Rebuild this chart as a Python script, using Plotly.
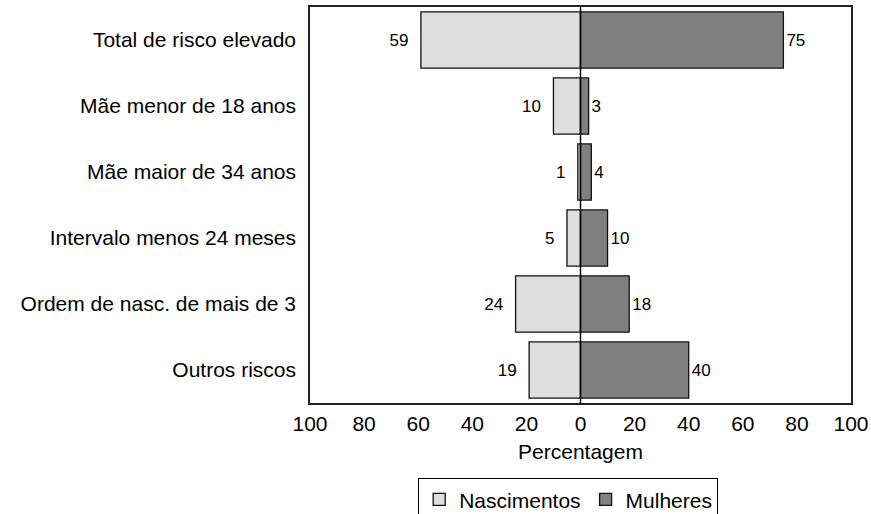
import plotly.graph_objects as go

categories = ["Total de risco elevado", "Mãe menor de 18 anos", "Mãe maior de 34 anos",
              "Intervalo menos 24 meses", "Ordem de nasc. de mais de 3", "Outros riscos"]
nascimentos = [59, 10, 1, 5, 24, 19]
mulheres = [75, 3, 4, 10, 18, 40]
tick_vals = [-100, -80, -60, -40, -20, 0, 20, 40, 60, 80, 100]
tick_text = ["100", "80", "60", "40", "20", "0", "20", "40", "60", "80", "100"]

FONT = "Liberation Sans, Arial, sans-serif"

fig = go.Figure()
fig.add_trace(go.Bar(
    y=categories, x=[-v for v in nascimentos], orientation="h", name="Nascimentos",
    marker=dict(color="#dedede", line=dict(color="#111111", width=1.3)),
    text=[str(v) + "\u00a0\u00a0" for v in nascimentos], textposition="outside",
    textfont=dict(size=17, color="black", family=FONT), cliponaxis=False,
    width=0.85,
))
fig.add_trace(go.Bar(
    y=categories, x=mulheres, orientation="h", name="Mulheres",
    marker=dict(color="#808080", line=dict(color="#111111", width=1.3)),
    text=[str(v) for v in mulheres], textposition="outside",
    textfont=dict(size=17, color="black", family=FONT), cliponaxis=False,
    width=0.85,
))
fig.add_shape(type="line", xref="x", yref="paper", x0=0, x1=0, y0=0, y1=1,
              line=dict(color="black", width=1.5))

fig.update_layout(
    width=871, height=514,
    margin=dict(l=310, r=20, t=7, b=111, autoexpand=False),
    barmode="overlay",
    plot_bgcolor="white", paper_bgcolor="white",
    font=dict(family=FONT, size=21, color="black"),
    xaxis=dict(range=[-100, 100], tickvals=tick_vals, ticktext=tick_text,
               showgrid=False, zeroline=False, showline=True, mirror=True,
               linecolor="#222222", linewidth=1.5, ticks="", automargin=False,
               ticklabelstandoff=1,
               title=dict(text="Percentagem", standoff=10, font=dict(size=21)),
               tickfont=dict(size=21)),
    yaxis=dict(categoryorder="array", categoryarray=categories, autorange="reversed",
               showgrid=False, zeroline=False, showline=True, mirror=True,
               linecolor="#222222", linewidth=1.5, ticks="", ticklabelstandoff=8,
               automargin=False, tickfont=dict(size=21)),
    legend=dict(orientation="h", x=0.2, xanchor="left", y=-0.19, yanchor="top",
                bordercolor="black", borderwidth=1, font=dict(size=21),
                traceorder="normal", itemwidth=30, tracegroupgap=0),
    showlegend=True,
)
fig.write_html(
    "out.html",
    config={"displayModeBar": False},
    post_script="document.body.style.margin='0px';document.body.style.overflow='hidden';",
)
